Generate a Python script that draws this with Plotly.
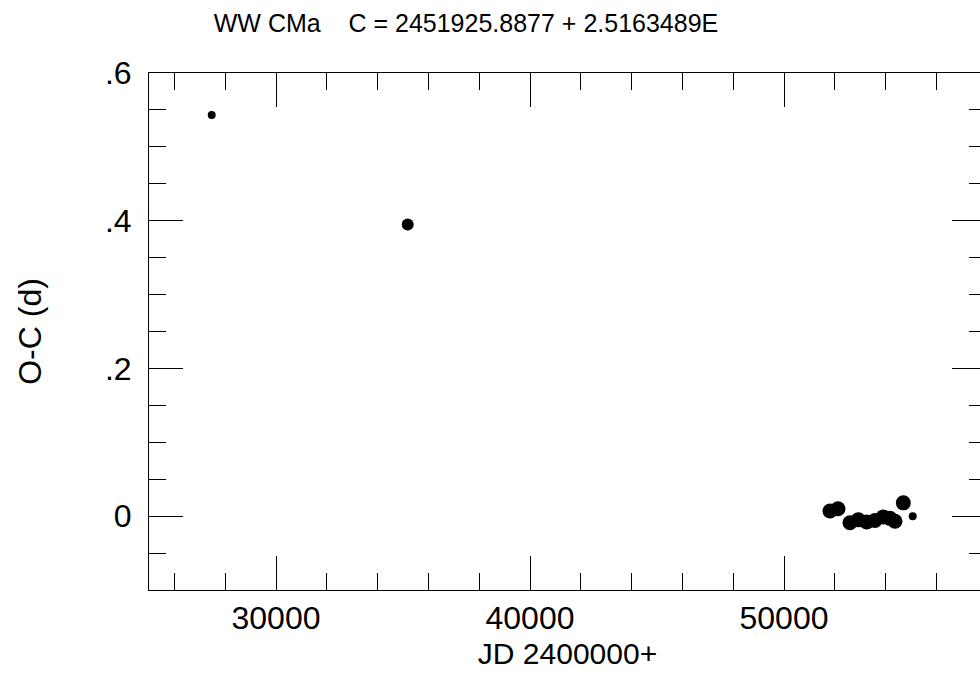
import plotly.graph_objects as go

# ---- data ----
jd = [27469, 35185, 51811, 52126, 52598, 52925, 53256, 53583, 53909, 54173, 54370, 54697, 55067]
o_c = [0.543, 0.395, 0.007, 0.010, -0.009, -0.005, -0.008, -0.006, -0.001, -0.003, -0.007, 0.018, 0.000]
marker_sizes = [8, 12, 15, 15, 15, 15, 15, 15, 15, 15, 15, 15, 8]

x_tickvals = [30000, 40000, 50000]
x_ticktext = ["30000", "40000", "50000"]
y_tickvals = [0, 0.2, 0.4, 0.6]
y_ticktext = ["0", ".2", ".4", ".6"]

title_text = "WW CMa    C = 2451925.8877 + 2.5163489E"
x_title = "JD 2400000+"
y_title = "O-C (d)"

FONT = "Liberation Sans, Arial, Helvetica, sans-serif"
W, H = 986, 691  # right frame edge sits just outside the 980px window, as in the reference

fig = go.Figure()
fig.add_trace(go.Scatter(
    x=jd, y=o_c, mode="markers",
    marker=dict(color="black", size=marker_sizes, opacity=1, line=dict(width=0)),
    showlegend=False, hoverinfo="x+y",
))

axis_common = dict(
    showgrid=False, zeroline=False, showline=True, linecolor="black", linewidth=1,
    mirror="ticks", ticks="inside", tickcolor="black", tickwidth=1, ticklen=34,
    tickfont=dict(family=FONT, size=32, color="black"),
)

fig.update_xaxes(
    **axis_common,
    range=[25000, 57953],
    tickmode="array", tickvals=x_tickvals, ticktext=x_ticktext,
    minor=dict(ticks="inside", ticklen=17, tickcolor="black", tickwidth=1,
               tickmode="linear", tick0=0, dtick=2000),
    ticklabelstandoff=0,
    title=dict(text=x_title, font=dict(family=FONT, size=30, color="black"), standoff=7),
)
fig.update_yaxes(
    **axis_common,
    range=[-0.1, 0.6],
    tickmode="array", tickvals=y_tickvals, ticktext=y_ticktext,
    minor=dict(ticks="inside", ticklen=17, tickcolor="black", tickwidth=1,
               tickmode="linear", tick0=0, dtick=0.05),
    ticklabelstandoff=10,
    title=dict(text=y_title, font=dict(family=FONT, size=32, color="black"), standoff=53),
)

fig.update_layout(
    width=W, height=H,
    margin=dict(l=149, r=0, t=73, b=101),
    paper_bgcolor="white", plot_bgcolor="white",
    title=dict(
        text=title_text,
        font=dict(family=FONT, size=25, color="black"),
        x=466 / W, xanchor="center", xref="container",
        y=1 - 23 / H, yanchor="middle", yref="container",
    ),
)

fig.write_html(
    "out.html",
    config={"displayModeBar": False},
    post_script="document.body.style.margin='0';document.body.style.overflow='hidden';"
                "document.documentElement.style.overflow='hidden';",
)
